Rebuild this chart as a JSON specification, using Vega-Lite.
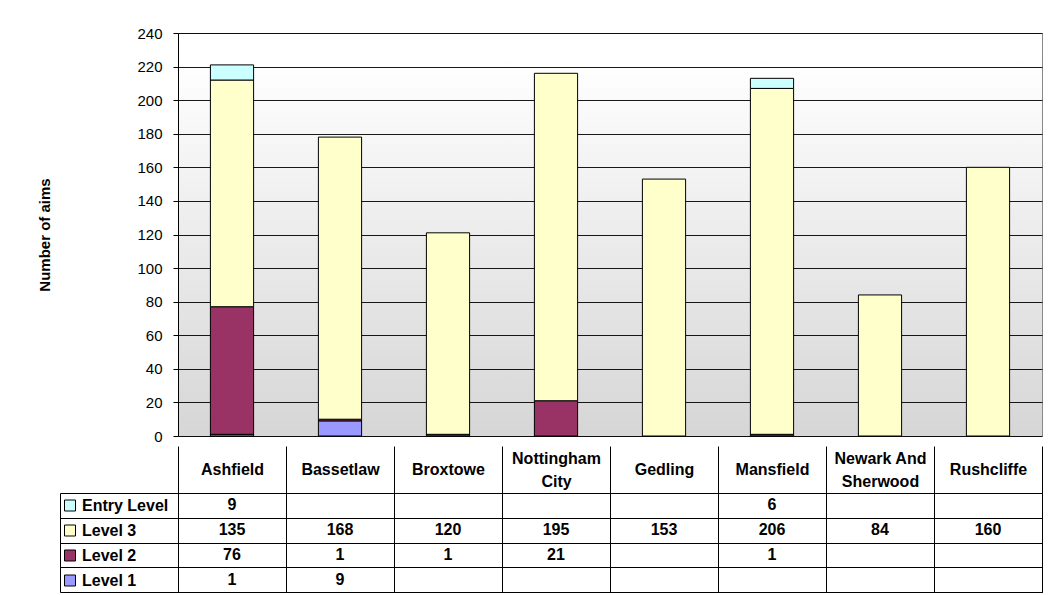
{
  "$schema": "https://vega.github.io/schema/vega-lite/v6.json",
  "padding": {"left": 37, "top": 25, "right": 0, "bottom": 0},
  "background": "white",
  "datasets": {
    "aims": [
      {"region": "Ashfield", "level": "Level 1", "value": 1},
      {"region": "Ashfield", "level": "Level 2", "value": 76},
      {"region": "Ashfield", "level": "Level 3", "value": 135},
      {"region": "Ashfield", "level": "Entry Level", "value": 9},
      {"region": "Bassetlaw", "level": "Level 1", "value": 9},
      {"region": "Bassetlaw", "level": "Level 2", "value": 1},
      {"region": "Bassetlaw", "level": "Level 3", "value": 168},
      {"region": "Broxtowe", "level": "Level 2", "value": 1},
      {"region": "Broxtowe", "level": "Level 3", "value": 120},
      {"region": "Nottingham City", "level": "Level 2", "value": 21},
      {"region": "Nottingham City", "level": "Level 3", "value": 195},
      {"region": "Gedling", "level": "Level 3", "value": 153},
      {"region": "Mansfield", "level": "Level 2", "value": 1},
      {"region": "Mansfield", "level": "Level 3", "value": 206},
      {"region": "Mansfield", "level": "Entry Level", "value": 6},
      {"region": "Newark And Sherwood", "level": "Level 3", "value": 84},
      {"region": "Rushcliffe", "level": "Level 3", "value": 160}
    ]
  },
  "config": {"font": "Liberation Sans", "view": {"stroke": null}},
  "resolve": {"scale": {"color": "independent", "x": "independent", "y": "independent"}},
  "spacing": 0,
  "vconcat": [
    {
      "width": 864,
      "height": 403,
      "view": {
        "fill": {"gradient": "linear", "x1": 0, "y1": 0, "x2": 0, "y2": 1,
          "stops": [{"offset": 0, "color": "#ffffff"}, {"offset": 0.06, "color": "#ffffff"}, {"offset": 1, "color": "#d6d6d6"}]},
        "stroke": "#888888"
      },
      "data": {"name": "aims"},
      "transform": [{"calculate": "indexof(['Level 1','Level 2','Level 3','Entry Level'], datum.level)", "as": "ord"}],
      "mark": {"type": "bar", "width": {"band": 0.4}, "stroke": "black", "strokeWidth": 1},
      "encoding": {
        "x": {"field": "region", "type": "nominal",
          "sort": ["Ashfield", "Bassetlaw", "Broxtowe", "Nottingham City", "Gedling", "Mansfield", "Newark And Sherwood", "Rushcliffe"],
          "scale": {"paddingInner": 0, "paddingOuter": 0}, "axis": null},
        "y": {"field": "value", "type": "quantitative", "stack": "zero",
          "scale": {"domain": [0, 240], "nice": false},
          "axis": {"tickCount": 12, "grid": true, "gridColor": "black", "gridOpacity": 0.9, "domainColor": "black", "tickColor": "black", "tickSize": 5,
            "labelFontSize": 15, "labelPadding": 11, "labelColor": "black",
            "title": "Number of aims", "titleFontSize": 15, "titleFontWeight": "bold", "titleColor": "black", "titlePadding": 84}},
        "color": {"field": "level", "type": "nominal",
          "scale": {"domain": ["Entry Level", "Level 3", "Level 2", "Level 1"], "range": ["#CCFFFF", "#FFFFCC", "#993366", "#9999FF"]},
          "legend": null},
        "order": {"field": "ord", "type": "quantitative"}
      }
    },
    {
      "width": 864,
      "height": 99,
      "view": {"stroke": "black"},
      "data": {"name": "aims"},
      "resolve": {"axis": {"y": "independent"}},
      "encoding": {
        "x": {"field": "region", "type": "nominal",
          "sort": ["Ashfield", "Bassetlaw", "Broxtowe", "Nottingham City", "Gedling", "Mansfield", "Newark And Sherwood", "Rushcliffe"],
          "scale": {"paddingInner": 0, "paddingOuter": 0},
          "axis": {"orient": "top", "title": null, "domain": false, "ticks": true, "tickBand": "extent", "tickSize": 47, "tickColor": "black",
            "grid": true, "gridColor": "black", "labelAngle": 0, "labelFontSize": 16, "labelFontWeight": "bold", "labelColor": "black",
            "labelBaseline": "middle",
            "labelPadding": {"condition": {"test": "datum.value == 'Nottingham City' || datum.value == 'Newark And Sherwood'", "value": -12}, "value": -23.5},
            "labelLimit": 0, "labelLineHeight": 23,
            "labelExpr": "datum.value == 'Nottingham City' ? ['Nottingham', 'City'] : datum.value == 'Newark And Sherwood' ? ['Newark And', 'Sherwood'] : datum.label"}}
      },
      "layer": [
        {
          "mark": {"type": "text", "fontSize": 16, "fontWeight": "bold", "color": "black", "baseline": "middle"},
          "encoding": {
            "y": {"field": "level", "type": "nominal", "sort": ["Entry Level", "Level 3", "Level 2", "Level 1"],
              "scale": {"paddingInner": 0, "paddingOuter": 0},
              "axis": {"orient": "left", "title": null, "labels": false, "domain": false, "tickBand": "extent", "tickSize": 118, "tickColor": "black", "grid": true, "gridColor": "black"}},
            "text": {"field": "value", "type": "quantitative"}
          }
        },
        {
          "mark": {"type": "rect", "opacity": 0},
          "encoding": {
            "y": {"field": "level", "type": "nominal", "sort": ["Entry Level", "Level 3", "Level 2", "Level 1"],
              "axis": {"orient": "left", "offset": 118, "title": null, "labels": false, "ticks": false, "grid": false, "domain": true, "domainColor": "black"}},
            "color": {"field": "level", "type": "nominal",
              "scale": {"domain": ["Entry Level", "Level 3", "Level 2", "Level 1"], "range": ["#CCFFFF", "#FFFFCC", "#993366", "#9999FF"]},
              "legend": {"orient": "none", "legendX": -116, "legendY": 4.5, "title": null, "padding": 0,
                "symbolType": "square", "symbolSize": 121, "symbolStrokeColor": "black", "symbolStrokeWidth": 1, "symbolOpacity": 1,
                "labelFontSize": 16, "labelFontWeight": "bold", "labelColor": "black", "labelOffset": 4, "rowPadding": 9, "labelLimit": 0}}
          }
        }
      ]
    }
  ]
}
